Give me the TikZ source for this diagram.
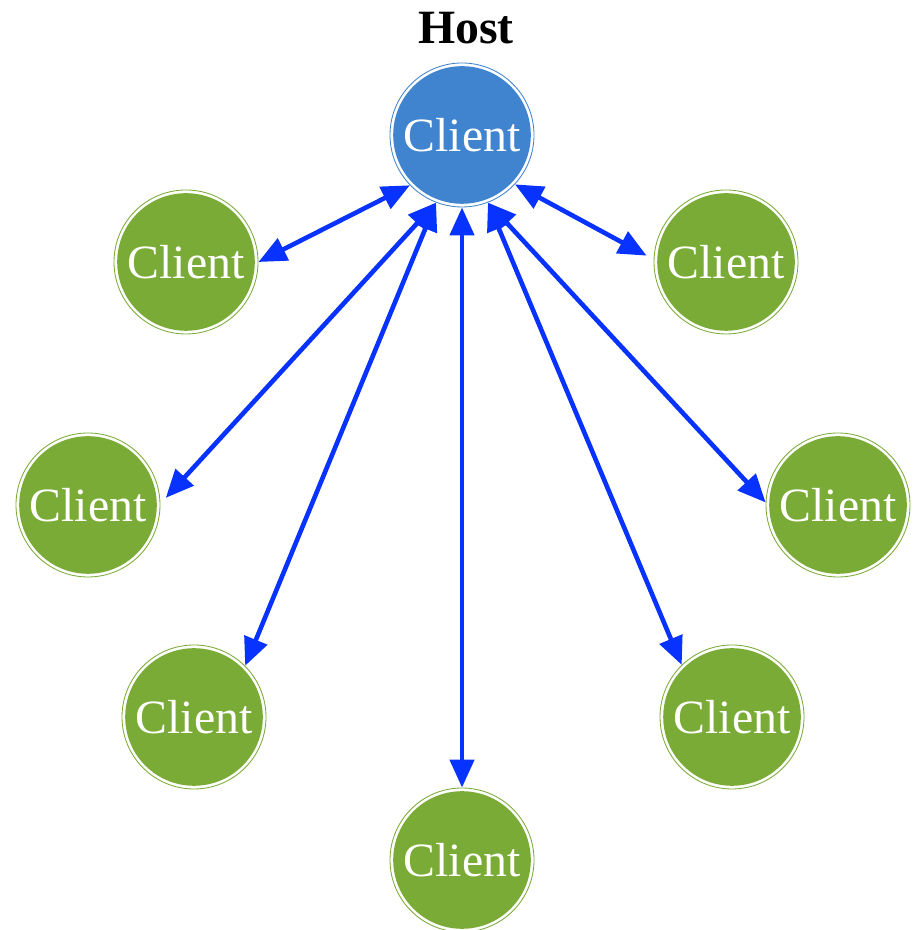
\documentclass[tikz,border=0pt]{standalone}
\usepackage{fontspec}
\setmainfont{Liberation Serif}
\usetikzlibrary{arrows.meta, positioning, calc}
\definecolor{hostblue}{RGB}{64,131,206}
\definecolor{clientgreen}{RGB}{122,171,54}
\definecolor{linkblue}{RGB}{8,50,255}

\begin{document}
\begin{tikzpicture}[
        >={Triangle[length=0.7cm, width=0.6cm]},
        peer/.style={circle, draw=#1, line width=0.6pt, fill=white, minimum size=3.6cm, inner sep=0pt,
            text=white, font=\fontsize{34}{37}\selectfont,
            path picture={\fill[#1] (path picture bounding box.center) circle (1.72cm);}},
        link/.style={<->, linkblue, line width=0.115cm}
    ]
        \useasboundingbox (0, 0) rectangle (22.8, 23.25);

        % Host
        \node[font=\fontsize{34}{37}\selectfont\bfseries] (title) at (11.65, 22.55) {Host};
        \node[peer=hostblue] (host) at (11.55, 19.875) {Client};

        % Clients
        \node[peer=clientgreen] (c1) at (4.65, 16.7) {Client};
        \node[peer=clientgreen] (c2) at (18.15, 16.7) {Client};
        \node[peer=clientgreen] (c3) at (2.2, 10.625) {Client};
        \node[peer=clientgreen] (c4) at (20.95, 10.625) {Client};
        \node[peer=clientgreen] (c5) at (4.85, 5.325) {Client};
        \node[peer=clientgreen] (c6) at (18.3, 5.325) {Client};
        \node[peer=clientgreen] (c7) at (11.55, 1.75) {Client};

        % Links
        \foreach \a/\c/\b in {-136/c1/0, -111/c5/45, -90/c7/90, -69/c4/178, -69/c6/134}
            \draw[link] (host.\a) -- (\c.\b);
        \draw[link, shorten >=0.2cm] (host.-43) -- (c2.178);
        \draw[link, shorten >=0.2cm] (host.-111) -- (c3.1);

    \end{tikzpicture}
\end{document}
